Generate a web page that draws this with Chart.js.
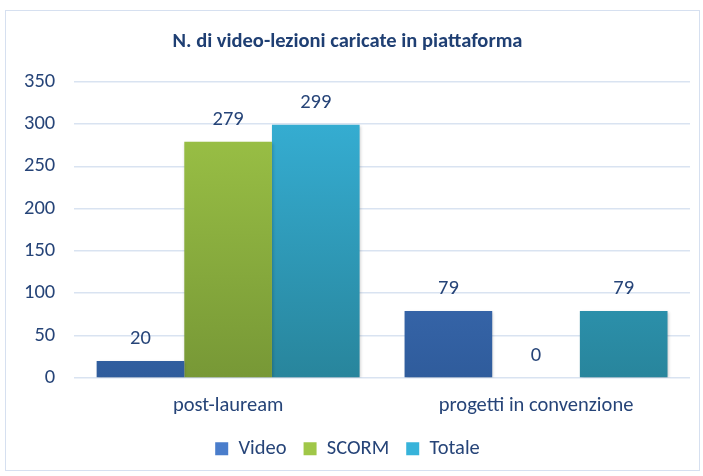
<!DOCTYPE html>
<html>
<head>
<meta charset="utf-8">
<script src="https://cdn.jsdelivr.net/npm/chart.js@4"></script>
<style>
  html, body { margin: 0; padding: 0; background: #fff; }
  #wrap { width: 703px; height: 476px; position: relative; }
</style>
</head>
<body>
<div id="wrap"><canvas id="chart" width="703" height="476"></canvas></div>
<script>
// values
const categories = ["post-lauream", "progetti in convenzione"];
const video = [20, 79];
const scorm = [279, 0];
const totale = [299, 79];
const yTicks = [0, 50, 100, 150, 200, 250, 300, 350];

const textColor = "#264478";
const fontFamily = "Carlito, 'Liberation Sans Narrow', 'Liberation Sans', sans-serif";
const fontSize = 20.5;
const seriesColors = [
    ["#4A7DCB", "#2F5C9C"],
    ["#A0C748", "#779836"],
    ["#37B3DA", "#28859C"]
];

// vertical gradient for each series, built against the chart area
function grad(top, bottom) {
    return function (context) {
        const chart = context.chart;
        const area = chart.chartArea;
        if (!area) return top;
        const g = chart.ctx.createLinearGradient(0, area.top, 0, area.bottom);
        g.addColorStop(0, top);
        g.addColorStop(1, bottom);
        return g;
    };
}

// frame around the whole chart
const framePlugin = {
    id: "frame",
    beforeDraw(chart) {
        const ctx = chart.ctx;
        ctx.save();
        ctx.fillStyle = "#fff";
        ctx.fillRect(0, 0, chart.width, chart.height);
        ctx.strokeStyle = "#D6E0F0";
        ctx.lineWidth = 1;
        ctx.strokeRect(5.5, 10.5, 694, 460);
        ctx.restore();
    }
};

// soft shadow under the bars
const barShadow = {
    id: "barShadow",
    beforeDatasetsDraw(chart) {
        const ctx = chart.ctx;
        ctx.save();
        ctx.shadowColor = "rgba(0,0,0,0.22)";
        ctx.shadowBlur = 3;
        ctx.shadowOffsetX = 1;
        ctx.shadowOffsetY = 1;
    },
    afterDatasetsDraw(chart) {
        chart.ctx.restore();
    }
};

// value labels above each bar
const valueLabels = {
    id: "valueLabels",
    afterDatasetsDraw(chart) {
        const ctx = chart.ctx;
        ctx.save();
        ctx.fillStyle = textColor;
        ctx.font = fontSize + "px " + fontFamily;
        ctx.textAlign = "center";
        ctx.textBaseline = "middle";
        chart.data.datasets.forEach((ds, i) => {
            chart.getDatasetMeta(i).data.forEach((bar, j) => {
                ctx.fillText(String(ds.data[j]), bar.x, bar.y - 22);
            });
        });
        ctx.restore();
    }
};

new Chart(document.getElementById("chart").getContext("2d"), {
    type: "bar",
    data: {
        labels: categories,
        datasets: [
            { label: "Video", data: video, backgroundColor: grad(...seriesColors[0]) },
            { label: "SCORM", data: scorm, backgroundColor: grad(...seriesColors[1]) },
            { label: "Totale", data: totale, backgroundColor: grad(...seriesColors[2]) }
        ]
    },
    options: {
        responsive: false,
        animation: false,
        layout: { padding: { left: 5, right: 13, top: 0, bottom: 7 } },
        datasets: {
            bar: { categoryPercentage: 0.854, barPercentage: 1.0 }
        },
        scales: {
            x: {
                grid: { display: false, drawTicks: false },
                border: { display: false },
                ticks: { color: textColor, font: { family: fontFamily, size: fontSize }, padding: 16 },
                afterFit(axis) { axis.height -= 13; }
            },
            y: {
                min: 0,
                max: 350,
                afterBuildTicks(axis) { axis.ticks = yTicks.map(v => ({ value: v })); },
                grid: { color: "#D9E3F1", lineWidth: 1.5, drawTicks: false },
                border: { display: false },
                ticks: { color: textColor, font: { family: fontFamily, size: fontSize }, padding: 19 }
            }
        },
        plugins: {
            title: {
                display: true,
                text: "N. di video-lezioni caricate in piattaforma",
                color: "#1F3F73",
                font: { family: fontFamily, size: 20.5, weight: "bold" },
                padding: { top: 30, bottom: 27 }
            },
            legend: {
                position: "bottom",
                labels: {
                    color: textColor,
                    font: { family: fontFamily, size: fontSize },
                    boxWidth: 13,
                    boxHeight: 13,
                    padding: 17,
                    generateLabels(chart) {
                        return chart.data.datasets.map((ds, i) => ({
                            text: ds.label,
                            fillStyle: seriesColors[i][0],
                            strokeStyle: seriesColors[i][1],
                            lineWidth: 0,
                            fontColor: textColor,
                            datasetIndex: i,
                            hidden: !chart.isDatasetVisible(i)
                        }));
                    }
                }
            },
            tooltip: { enabled: false }
        }
    },
    plugins: [framePlugin, barShadow, valueLabels]
});
</script>
</body>
</html>
